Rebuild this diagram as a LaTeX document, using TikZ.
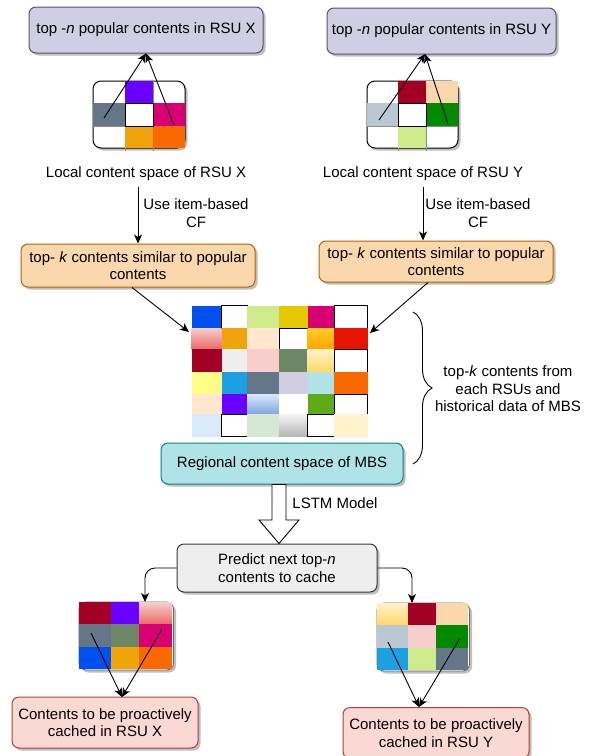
\documentclass[tikz,border=0pt]{standalone}
\usepackage{fontspec}
\setmainfont{Liberation Sans}
\usetikzlibrary{arrows.meta,shadows,decorations.pathreplacing}
\definecolor{lavF}{HTML}{D0CEE2}\definecolor{lavD}{HTML}{56517E}
\definecolor{orF}{HTML}{FAD7AC}\definecolor{orD}{HTML}{B46504}
\definecolor{cyF}{HTML}{B0E3E6}\definecolor{cyD}{HTML}{0E8088}
\definecolor{grF}{HTML}{EEEEEE}\definecolor{grD}{HTML}{36393D}
\definecolor{rdF}{HTML}{FAD9D5}\definecolor{rdD}{HTML}{AE4132}
\definecolor{cBlue}{HTML}{0050EF}\definecolor{cLGreen}{HTML}{CDEB8B}
\definecolor{cYel}{HTML}{E3C800}\definecolor{cMag}{HTML}{D80073}
\definecolor{cOrA}{HTML}{F0A30A}\definecolor{cPeach}{HTML}{FFE6CC}
\definecolor{cRed}{HTML}{E51400}\definecolor{cDRed}{HTML}{A20025}
\definecolor{cPink}{HTML}{F8CECC}\definecolor{cPinkD}{HTML}{EA6B66}
\definecolor{cOlive}{HTML}{6D8764}\definecolor{cLYel}{HTML}{FFF2CC}
\definecolor{cLYelD}{HTML}{FFD966}\definecolor{cYel2}{HTML}{FFFF88}
\definecolor{cSky}{HTML}{1BA1E2}\definecolor{cSlate}{HTML}{647687}
\definecolor{cTeal}{HTML}{B0E3E6}\definecolor{cOr}{HTML}{FA6800}
\definecolor{cViolet}{HTML}{6A00FF}\definecolor{cLBlue}{HTML}{DAE8FC}
\definecolor{cLBlueD}{HTML}{7EA6E0}\definecolor{cGreen}{HTML}{60A917}
\definecolor{cMint}{HTML}{D5E8D4}\definecolor{cGrayL}{HTML}{F5F5F5}
\definecolor{cGrayD}{HTML}{B3B3B3}\definecolor{cGold}{HTML}{FFCD28}
\definecolor{cOrange}{HTML}{FFA500}\definecolor{cBGray}{HTML}{BAC8D3}
\definecolor{cEmer}{HTML}{008A00}\definecolor{cLGray}{HTML}{EEEEEE}
\newcommand{\gcell}[5]{\path[#5] (#1,#2) rectangle (#3,#4);}
\begin{document}
\begin{tikzpicture}[x=1pt,y=-1pt,
  txt/.style={font=\fontsize{15}{17.5}\selectfont,align=center,inner sep=1pt},
  shd/.style={drop shadow={shadow xshift=2.5pt,shadow yshift=-2.5pt,fill=black,opacity=0.25}},
  box/.style={txt,draw,rounded corners=7pt,line width=1pt,shd},
  arr/.style={-{Stealth[length=9pt,width=8pt,inset=2.5pt]},line width=0.9pt},
  wc/.style={fill=white,draw=black,line width=0.8pt}]
\useasboundingbox (0,0) rectangle (594,756);

% ---------- top boxes ----------
\node[box,fill=lavF,draw=lavD,minimum width=234pt,minimum height=46pt] (topX) at (146,30) {top -\textit{n} popular contents in RSU X};
\node[box,fill=lavF,draw=lavD,minimum width=229pt,minimum height=46pt] (topY) at (441.5,31) {top -\textit{n} popular contents in RSU Y};

% ---------- local grid X ----------
\path[fill=white,draw=black,line width=1pt,rounded corners=8pt,shd] (93,81) rectangle (185,148);
\draw[black!45,line width=0.6pt] (93,103) -- (185,103) (93,126) -- (185,126) (125,81) -- (125,151) (153,81) -- (153,151);
\gcell{125}{81}{153}{103}{fill=cViolet}
\gcell{93}{103}{125}{126}{fill=cSlate}
\gcell{153}{103}{185}{126}{fill=cMag}
\gcell{125}{126}{153}{148}{fill=cOrA}
\gcell{153}{126}{185}{148}{fill=cOr}
\draw[black,line width=0.8pt] (125,103) rectangle (153,126);
\coordinate (xa) at (104,118);
\coordinate (xb) at (174,125);
\draw[arr] (xa) -- (topX.south);
\draw[arr] (xb) -- (topX.south);

% ---------- local grid Y ----------
\path[fill=white,draw=black,line width=1pt,rounded corners=8pt,shd] (367,81) rectangle (458,148);
\draw[black!45,line width=0.6pt] (367,103) -- (458,103) (367,126) -- (458,126) (398,81) -- (398,151) (426,81) -- (426,151);
\gcell{398}{81}{426}{103}{fill=cDRed}
\gcell{426}{81}{458}{103}{fill=orF}
\gcell{367}{103}{398}{126}{fill=cBGray}
\gcell{426}{103}{458}{126}{fill=cEmer}
\gcell{398}{126}{426}{148}{fill=cLGreen}
\draw[black,line width=0.8pt] (398,103) rectangle (426,126);
\coordinate (ya) at (379,120);
\coordinate (yb) at (448,124);
\coordinate (yt) at (425,54);
\draw[arr] (ya) -- (yt);
\draw[arr] (yb) -- (yt);

% ---------- local labels ----------
\node[txt] (localX) at (146,174) {Local content space of RSU X};
\node[txt] (localY) at (423,174) {Local content space of RSU Y};

% ---------- top-k boxes ----------
\node[box,fill=orF,draw=orD,minimum width=234pt,minimum height=43pt] (topkX) at (138,265.5) {top- \textit{k} contents similar to popular\\contents};
\node[box,fill=orF,draw=orD,minimum width=234pt,minimum height=41pt] (topkY) at (436,261.5) {top- \textit{k} contents similar to popular\\contents};
\draw[arr] (topkX.north |- 0,187) -- (topkX.north);
\draw[arr] (localY.south |- 0,187) -- (localY.south |- topkY.north);
\node[txt] (cfX) at (196,213) {Use item-based\\CF};
\node[txt] (cfY) at (478,213) {Use item-based\\CF};

% ---------- regional grid ----------
% row 1
\gcell{191.7}{305.7}{221.7}{328}{fill=cBlue}
\gcell{221.7}{305.7}{247}{328}{wc}
\gcell{247}{305.7}{279}{328}{fill=cLGreen}
\gcell{279}{305.7}{307.7}{328}{fill=cYel}
\gcell{307.7}{305.7}{334}{328}{fill=cMag}
\gcell{334}{305.7}{367.7}{328}{wc}
% row 2
\gcell{191.7}{328}{221.7}{349}{top color=cPink,bottom color=cPinkD}
\gcell{221.7}{328}{247}{349}{fill=cOrA}
\gcell{247}{328}{279}{349}{fill=cPeach}
\gcell{279}{328}{307.7}{349}{wc}
\gcell{307.7}{328}{334}{349}{top color=cGold,bottom color=cOrange}
\gcell{334}{328}{367.7}{349}{fill=cRed}
% row 3
\gcell{191.7}{349}{221.7}{372}{fill=cDRed}
\gcell{221.7}{349}{247}{372}{fill=cLGray}
\gcell{247}{349}{279}{372}{fill=cPink}
\gcell{279}{349}{307.7}{372}{fill=cOlive}
\gcell{307.7}{349}{334}{372}{top color=cLYel,bottom color=cLYelD}
\gcell{334}{349}{367.7}{372}{wc}
% row 4
\gcell{191.7}{372}{221.7}{394}{fill=cYel2}
\gcell{221.7}{372}{247}{394}{fill=cSky}
\gcell{247}{372}{279}{394}{fill=cSlate}
\gcell{279}{372}{307.7}{394}{fill=lavF}
\gcell{307.7}{372}{334}{394}{fill=cTeal}
\gcell{334}{372}{367.7}{394}{fill=cOr}
% row 5
\gcell{191.7}{394}{221.7}{414}{fill=cPeach}
\gcell{221.7}{394}{247}{414}{fill=cViolet}
\gcell{247}{394}{279}{414}{top color=cLBlue,bottom color=cLBlueD}
\gcell{279}{394}{307.7}{414}{fill=white}
\gcell{307.7}{394}{334}{414}{fill=cGreen}
\gcell{334}{394}{367.7}{414}{wc}
% row 6
\gcell{191.7}{414}{221.7}{436.7}{fill=cLBlue}
\gcell{221.7}{414}{247}{436.7}{wc}
\gcell{247}{414}{279}{436.7}{fill=cMint}
\gcell{279}{414}{307.7}{436.7}{top color=cGrayL,bottom color=cGrayD}
\gcell{307.7}{414}{334}{436.7}{wc}
\gcell{334}{414}{367.7}{436.7}{fill=cLYel}
\coordinate (gL) at (189,332);
\coordinate (gR) at (370,333);
\draw[arr] ([xshift=-6pt]topkX.south) -- (gL);
\draw[arr] ([xshift=-8pt]topkY.south) -- (gR);

% ---------- regional box and brace ----------
\node[box,fill=cyF,draw=cyD,minimum width=242pt,minimum height=41pt] (reg) at (282,463.5) {Regional content space of MBS};
\draw[decorate,decoration={brace,amplitude=19pt},line width=0.9pt] (413,312) -- (413,464);
\node[txt] (brl) at (508,389) {top-\textit{k} contents from\\each RSUs and\\historical data of MBS};

% ---------- LSTM block arrow ----------
\node[box,fill=grF,draw=grD,minimum width=200pt,minimum height=48pt] (pred) at (277,568) {Predict next top-\textit{n}\\contents to cache};
\draw[fill=white,line width=0.9pt,line join=miter] (272,484.5) -- (286,484.5) -- (286,520) -- (299,520) -- (279,543.5) -- (259,520) -- (272,520) -- cycle;
\node[txt] (lstm) at (335,503) {LSTM Model};

% ---------- bottom grid X ----------
\path[fill=white,draw=black!60,line width=0.8pt,rounded corners=7pt,shd] (79,602) rectangle (173.5,670);
\gcell{79}{602}{111}{624}{fill=cDRed}
\gcell{111}{602}{139}{624}{fill=cViolet}
\gcell{139}{602}{172}{624}{top color=cPink,bottom color=cPinkD}
\gcell{79}{624}{111}{647}{fill=cSlate}
\gcell{111}{624}{139}{647}{fill=cOlive}
\gcell{139}{624}{172}{647}{fill=cMag}
\gcell{79}{647}{111}{669}{fill=cBlue}
\gcell{111}{647}{139}{669}{fill=cOrA}
\gcell{139}{647}{172}{669}{fill=cOr}
\coordinate (blTop) at (145,602);
\draw[arr,rounded corners=10pt] (pred.west) -| (blTop);

% ---------- bottom grid Y ----------
\path[fill=white,draw=black!60,line width=0.8pt,rounded corners=7pt,shd] (377,603) rectangle (469.5,671);
\gcell{377}{603}{408}{625}{top color=cLYel,bottom color=cLYelD}
\gcell{408}{603}{436}{625}{fill=cDRed}
\gcell{436}{603}{468}{625}{fill=orF}
\gcell{377}{625}{408}{648}{fill=cBGray}
\gcell{408}{625}{436}{648}{fill=cPink}
\gcell{436}{625}{468}{648}{fill=cEmer}
\gcell{377}{648}{408}{670}{fill=cSky}
\gcell{408}{648}{436}{670}{fill=cLGreen}
\gcell{436}{648}{468}{670}{fill=cSlate}
\coordinate (brTop) at (412,603);
\draw[arr,rounded corners=10pt] (pred.east) -| (brTop);

% ---------- final boxes ----------
\node[box,fill=rdF,draw=rdD,minimum width=186pt,minimum height=51pt] (finX) at (105,722.5) {Contents to be proactively\\cached in RSU X};
\node[box,fill=rdF,draw=rdD,minimum width=186pt,minimum height=51pt] (finY) at (436,733) {Contents to be proactively\\cached in RSU Y};
\coordinate (bxa) at (91,633);
\coordinate (bxb) at (162,629);
\coordinate (bxt) at (122,697);
\draw[arr] (bxa) -- (bxt);
\draw[arr] (bxb) -- (bxt);
\coordinate (bya) at (388,642);
\coordinate (byb) at (460,638);
\coordinate (byt) at (419,707);
\draw[arr] (bya) -- (byt);
\draw[arr] (byb) -- (byt);
\end{tikzpicture}
\end{document}
